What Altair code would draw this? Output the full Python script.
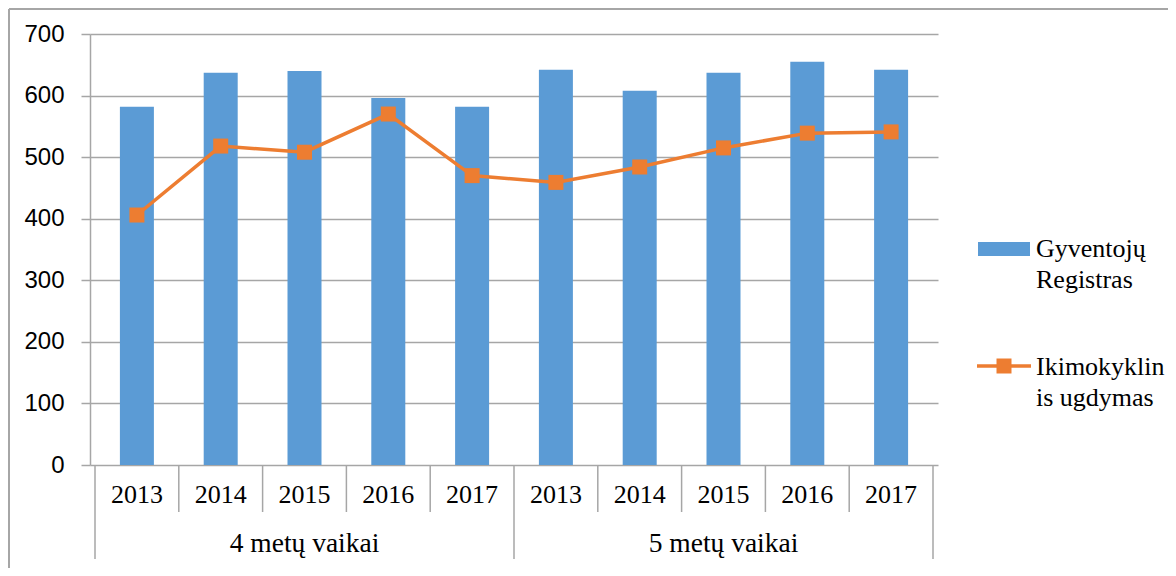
import altair as alt
import pandas as pd

# ---- data ----
groups = ["4 metų vaikai"] * 5 + ["5 metų vaikai"] * 5
years = ["2013", "2014", "2015", "2016", "2017"] * 2
registras = [582, 637, 640, 596, 582, 642, 608, 637, 655, 642]
ugdymas = [406, 518, 508, 570, 470, 459, 484, 515, 539, 541]
group_names = ["4 metų vaikai", "5 metų vaikai"]
series_names = ["Gyventojų\nRegistras", "Ikimokyklin\nis ugdymas"]
y_ticks = [0, 100, 200, 300, 400, 500, 600, 700]

BAR = "#5b9bd5"
LINE = "#ed7d31"
GRID = "#a6a6a6"
SERIF = "Liberation Serif"

W, H = 848, 431

df = pd.DataFrame({
    "pos": [i + 0.5 for i in range(len(years))],
    "year": years,
    "group": groups,
    "reg": registras,
    "ugd": ugdymas,
})
n = len(years)
per_group = n // len(group_names)
df_small = pd.DataFrame({"b": [i for i in range(1, n) if i % per_group != 0]})
df_big = pd.DataFrame({"b": [i for i in range(0, n + 1) if i % per_group == 0]})
df_grp = pd.DataFrame({"g": group_names,
                       "c": [k * per_group + per_group / 2 for k in range(len(group_names))]})
df_leg = pd.DataFrame({"label": series_names})

xs = alt.Scale(domain=[0, n], nice=False, zero=False)
ys = alt.Scale(domain=[0, 700], nice=False)
yaxis = alt.Axis(values=y_ticks, grid=True, gridColor=GRID, gridWidth=1.5,
                 domainColor=GRID, domainWidth=1.5, tickColor=GRID, tickSize=9,
                 tickWidth=1.5, labelFont="Liberation Sans", labelFontSize=24,
                 labelColor="black", labelPadding=17, title=None)

base = alt.Chart(df)

bars = base.mark_bar(size=34, color=BAR).encode(
    x=alt.X("pos:Q", scale=xs, axis=None),
    y=alt.Y("reg:Q", scale=ys, axis=yaxis),
)
line = base.mark_line(color=LINE, strokeWidth=3.5).encode(
    x=alt.X("pos:Q", scale=xs, axis=None),
    y=alt.Y("ugd:Q", scale=ys, axis=yaxis),
)
pts = base.mark_square(size=225, color=LINE, opacity=1).encode(
    x=alt.X("pos:Q", scale=xs, axis=None),
    y=alt.Y("ugd:Q", scale=ys, axis=yaxis),
)

small_div = alt.Chart(df_small).mark_rule(color=GRID, strokeWidth=1.5).encode(
    x=alt.X("b:Q", scale=xs, axis=None), y=alt.value(H), y2=alt.value(H + 47))
big_div = alt.Chart(df_big).mark_rule(color=GRID, strokeWidth=1.5).encode(
    x=alt.X("b:Q", scale=xs, axis=None), y=alt.value(H), y2=alt.value(H + 94))

year_lbl = base.mark_text(font=SERIF, fontSize=26, baseline="middle", color="black").encode(
    x=alt.X("pos:Q", scale=xs, axis=None), y=alt.value(H + 30), text="year:N")
grp_lbl = alt.Chart(df_grp).mark_text(font=SERIF, fontSize=27.5, baseline="middle", color="black").encode(
    x=alt.X("c:Q", scale=xs, axis=None), y=alt.value(H + 79), text="g:N")

# chart frame (top and left edges visible in the reference)
frame_top = alt.Chart(df_leg.head(1)).mark_rule(color=GRID, strokeWidth=2).encode(
    x=alt.value(-81), x2=alt.value(W + 300), y=alt.value(-25))
frame_left = alt.Chart(df_leg.head(1)).mark_rule(color=GRID, strokeWidth=2).encode(
    x=alt.value(-81), y=alt.value(-25), y2=alt.value(H + 200))

# legend
leg_rect = alt.Chart(df_leg.head(1)).mark_rect(color=BAR).encode(
    x=alt.value(888), x2=alt.value(940), y=alt.value(208), y2=alt.value(222))
leg_line = alt.Chart(df_leg.tail(1)).mark_rule(color=LINE, strokeWidth=3.5).encode(
    x=alt.value(887), x2=alt.value(941), y=alt.value(332))
leg_sq = alt.Chart(df_leg.tail(1)).mark_square(color=LINE, size=225, opacity=1).encode(
    x=alt.value(914), y=alt.value(332))
leg_t1 = alt.Chart(df_leg.head(1)).mark_text(
    font=SERIF, fontSize=26, align="left", baseline="alphabetic",
    lineBreak="\n", lineHeight=31, color="black").encode(
    x=alt.value(946), y=alt.value(223), text="label:N")
leg_t2 = alt.Chart(df_leg.tail(1)).mark_text(
    font=SERIF, fontSize=26, align="left", baseline="alphabetic",
    lineBreak="\n", lineHeight=31, color="black").encode(
    x=alt.value(946), y=alt.value(341), text="label:N")

chart = alt.layer(
    frame_top, frame_left, bars, line, pts, small_div, big_div, year_lbl, grp_lbl,
    leg_rect, leg_line, leg_sq, leg_t1, leg_t2,
).properties(
    width=W, height=H,
    autosize=alt.AutoSizeParams(type="none"),
    padding={"left": 82, "top": 26, "right": 230, "bottom": 103},
).configure_view(stroke=None)

chart.save("out.html", embed_options={"renderer": "svg", "actions": False})
